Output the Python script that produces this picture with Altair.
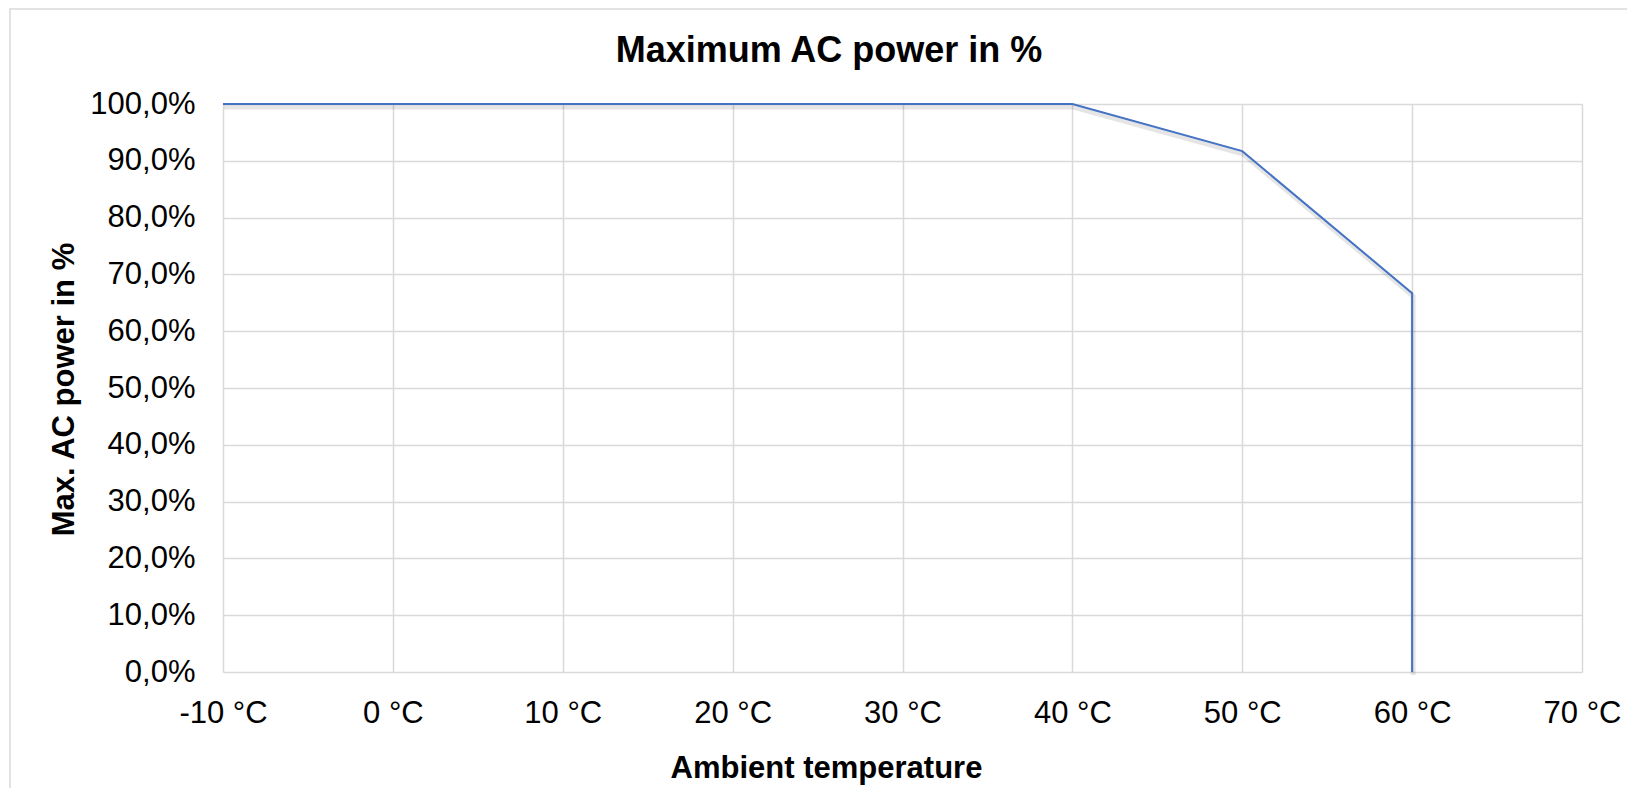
import altair as alt
import pandas as pd

# ---- data ----
temps = [-10, 40, 50, 60, 60]
power = [100.0, 100.0, 91.7, 66.7, 0.0]
order = [0, 1, 2, 3, 4]
x_ticks = [-10, 0, 10, 20, 30, 40, 50, 60, 70]
y_ticks = [0, 10, 20, 30, 40, 50, 60, 70, 80, 90, 100]
chart_title = "Maximum AC power in %"

df = pd.DataFrame({"temp": temps, "power": power, "order": order})
one_df = pd.DataFrame({"label": [chart_title]})

FONT = "Liberation Sans"
GRID = "#d9d9d9"

x_enc = alt.X(
    "temp:Q",
    scale=alt.Scale(domain=[-10, 70], nice=False, zero=False),
    axis=alt.Axis(
        values=x_ticks,
        labelExpr="datum.value + ' °C'",
        title="Ambient temperature",
        grid=True, gridColor=GRID, gridWidth=1.5,
        domain=False, ticks=False, tickSize=0,
        labelFont=FONT, labelFontSize=31, labelColor="black",
        labelPadding=50, labelBaseline="alphabetic",
        labelFlush=False, labelOverlap=False,
        titleFont=FONT, titleFontSize=31, titleFontWeight="bold", titleColor="black",
        titleX=603, titleY=105, titleBaseline="alphabetic", titleAlign="center",
    ),
)
y_enc = alt.Y(
    "power:Q",
    scale=alt.Scale(domain=[0, 100], nice=False),
    axis=alt.Axis(
        values=y_ticks,
        labelExpr="replace(format(datum.value, '.1f'), '.', ',') + '%'",
        title="Max. AC power in %",
        grid=True, gridColor=GRID, gridWidth=1.5,
        domain=False, ticks=False, tickSize=0,
        labelFont=FONT, labelFontSize=31, labelColor="black",
        labelPadding=28, labelFlush=False, labelOverlap=False,
        titleFont=FONT, titleFontSize=31, titleFontWeight="bold", titleColor="black",
        titleX=-150, titleY=285, titleAngle=270,
        titleBaseline="alphabetic", titleAlign="center",
    ),
)

# outer chart-area border (decoration)
frame = alt.Chart(one_df).mark_rect(
    fillOpacity=0, stroke=GRID, strokeWidth=1.5
).encode(
    x=alt.value(-213), x2=alt.value(1700),
    y=alt.value(-95), y2=alt.value(900),
)

# chart title, centred on the chart area as in the reference
title = alt.Chart(one_df).mark_text(
    font=FONT, fontSize=36, fontWeight="bold", color="black",
    align="center", baseline="alphabetic",
).encode(text="label:N", x=alt.value(606), y=alt.value(-42))

shadow = alt.Chart(df).mark_line(
    color="black", opacity=0.1, strokeWidth=5, xOffset=1, yOffset=3
).encode(x=x_enc, y=y_enc, order="order:Q")

line = alt.Chart(df).mark_line(color="#4472C4", strokeWidth=2).encode(
    x=x_enc, y=y_enc, order="order:Q"
)

chart = alt.layer(frame, title, shadow, line).properties(
    width=1359,
    height=568,
    padding={"left": 215, "top": 96, "right": 45, "bottom": 116},
    autosize=alt.AutoSizeParams(type="none"),
).configure_view(strokeWidth=0)

chart.save("out.html", embed_options={"renderer": "svg", "actions": False})
